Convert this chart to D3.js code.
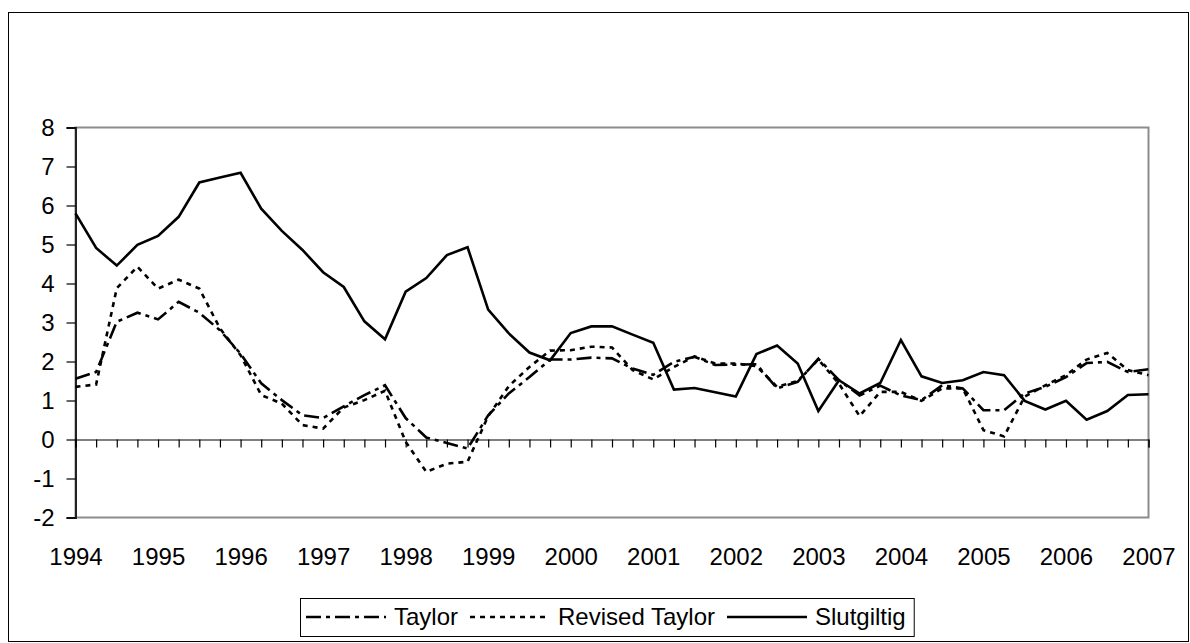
<!DOCTYPE html>
<html>
<head>
<meta charset="utf-8">
<script src="https://cdn.jsdelivr.net/npm/d3@7"></script>
<style>
  html, body { margin: 0; padding: 0; background: #fff; }
  svg { display: block; font-family: "Liberation Sans", Arial, sans-serif; }
</style>
</head>
<body>
<svg id="chart" width="1190" height="643"></svg>
<script>
// Year labels on the category axis
const years = ["1994","1995","1996","1997","1998","1999","2000","2001","2002","2003","2004","2005","2006","2007"];
// Quarterly categories, 1994Q1 .. 2007Q1
const quarters = years.flatMap(y => ["Q1","Q2","Q3","Q4"].map(q => y + q)).slice(0, 53);

const taylor = [1.56,1.73,3.02,3.25,3.08,3.53,3.25,2.80,2.20,1.44,1.01,0.62,0.55,0.85,1.14,1.39,
  0.55,0.05,-0.09,-0.23,0.62,1.18,1.60,2.05,2.05,2.10,2.08,1.82,1.66,1.99,2.12,1.91,
  1.92,1.93,1.31,1.48,2.07,1.52,1.13,1.38,1.13,1.01,1.39,1.31,0.75,0.75,1.18,1.35,
  1.60,1.96,1.99,1.73,1.80];

const revisedTaylor = [1.35,1.41,3.88,4.43,3.87,4.10,3.87,2.85,2.16,1.14,0.92,0.37,0.28,0.82,1.01,1.25,
  -0.06,-0.83,-0.62,-0.57,0.60,1.37,1.86,2.28,2.29,2.38,2.36,1.78,1.54,1.86,2.13,1.95,
  1.95,1.88,1.35,1.50,2.05,1.43,0.60,1.22,1.22,0.99,1.31,1.31,0.24,0.08,1.10,1.39,
  1.65,2.05,2.22,1.78,1.65];

const slutgiltig = [5.80,4.91,4.46,4.99,5.22,5.71,6.59,6.72,6.84,5.92,5.35,4.86,4.29,3.91,3.03,2.57,
  3.79,4.14,4.73,4.93,3.33,2.72,2.23,2.03,2.73,2.90,2.90,2.69,2.48,1.28,1.32,1.21,
  1.10,2.19,2.41,1.95,0.73,1.52,1.18,1.45,2.55,1.62,1.45,1.52,1.73,1.65,0.99,0.77,
  0.99,0.51,0.73,1.14,1.16];

const yTicks = [-2,-1,0,1,2,3,4,5,6,7,8];

const series = [
  { name: "Taylor", values: taylor, dash: "15,5,4,5" },
  { name: "Revised Taylor", values: revisedTaylor, dash: "5,5" },
  { name: "Slutgiltig", values: slutgiltig, dash: null }
];

const svg = d3.select("#chart");
const W = 1190, H = 643;
const plot = { left: 75.5, right: 1148.5, top: 127.5, bottom: 517.5 };

// Outer chart frame
svg.append("rect")
  .attr("x", 8.5).attr("y", 12.5)
  .attr("width", 1180).attr("height", 629)
  .attr("fill", "#fff").attr("stroke", "#000").attr("stroke-width", 1);

const x = d3.scalePoint().domain(quarters).range([plot.left, plot.right]);
const y = d3.scaleLinear().domain([-2, 8]).range([plot.bottom, plot.top]);

// Plot area border
svg.append("rect")
  .attr("x", plot.left).attr("y", plot.top)
  .attr("width", plot.right - plot.left).attr("height", plot.bottom - plot.top)
  .attr("fill", "none").attr("stroke", "#8c8c8c").attr("stroke-width", 2);

// Value axis
const yAxis = svg.append("g")
  .attr("transform", `translate(${plot.left},0)`)
  .call(d3.axisLeft(y).tickValues(yTicks).tickSize(9).tickPadding(12).tickFormat(d => d < 0 ? "-" + Math.abs(d) : String(d)));
yAxis.select(".domain").attr("stroke", "#222").attr("stroke-width", 2);
yAxis.selectAll(".tick line").attr("stroke", "#000").attr("stroke-width", 1.2);
yAxis.selectAll("text").attr("font-size", 24).attr("fill", "#000");

// Category axis along zero with a tick for every quarter
const xAxis = svg.append("g")
  .attr("transform", `translate(0,${y(0)})`)
  .call(d3.axisBottom(x).tickSize(8).tickFormat(""));
xAxis.select(".domain").attr("stroke", "#000").attr("stroke-width", 1.2);
xAxis.selectAll(".tick line").attr("stroke", "#000").attr("stroke-width", 1.2);

// Year labels below the plot
const labelAxis = svg.append("g")
  .attr("transform", `translate(0,${plot.bottom})`)
  .call(d3.axisBottom(x)
    .tickValues(quarters.filter(q => q.endsWith("Q1")))
    .tickSize(0).tickPadding(30)
    .tickFormat(q => q.slice(0, 4)));
labelAxis.select(".domain").remove();
labelAxis.selectAll("text").attr("font-size", 24).attr("fill", "#000");

// Series lines
const line = d3.line().x((d, i) => x(quarters[i])).y(d => y(d));
series.forEach(s => {
  svg.append("path")
    .datum(s.values)
    .attr("d", line)
    .attr("fill", "none")
    .attr("stroke", "#000")
    .attr("stroke-width", 2.6)
    .attr("stroke-linejoin", "miter")
    .attr("stroke-dasharray", s.dash);
});

// Legend
const legend = svg.append("g");
const lgTop = 598, lgH = 38, lgMid = lgTop + lgH / 2;
const lgBox = legend.append("rect")
  .attr("y", lgTop + 0.5).attr("height", lgH)
  .attr("fill", "#fff").attr("stroke", "#000").attr("stroke-width", 1);
let cx = 306;
series.forEach(s => {
  legend.append("line")
    .attr("x1", cx).attr("x2", cx + 80)
    .attr("y1", lgMid).attr("y2", lgMid)
    .attr("stroke", "#000").attr("stroke-width", 2.6)
    .attr("stroke-dasharray", s.dash);
  const t = legend.append("text")
    .attr("x", cx + 88).attr("y", lgMid).attr("dy", "0.35em")
    .attr("font-size", 24).attr("fill", "#000")
    .text(s.name);
  cx = cx + 88 + t.node().getComputedTextLength() + 12;
});
lgBox.attr("x", 300.5).attr("width", cx - 4 - 300);
</script>
</body>
</html>
